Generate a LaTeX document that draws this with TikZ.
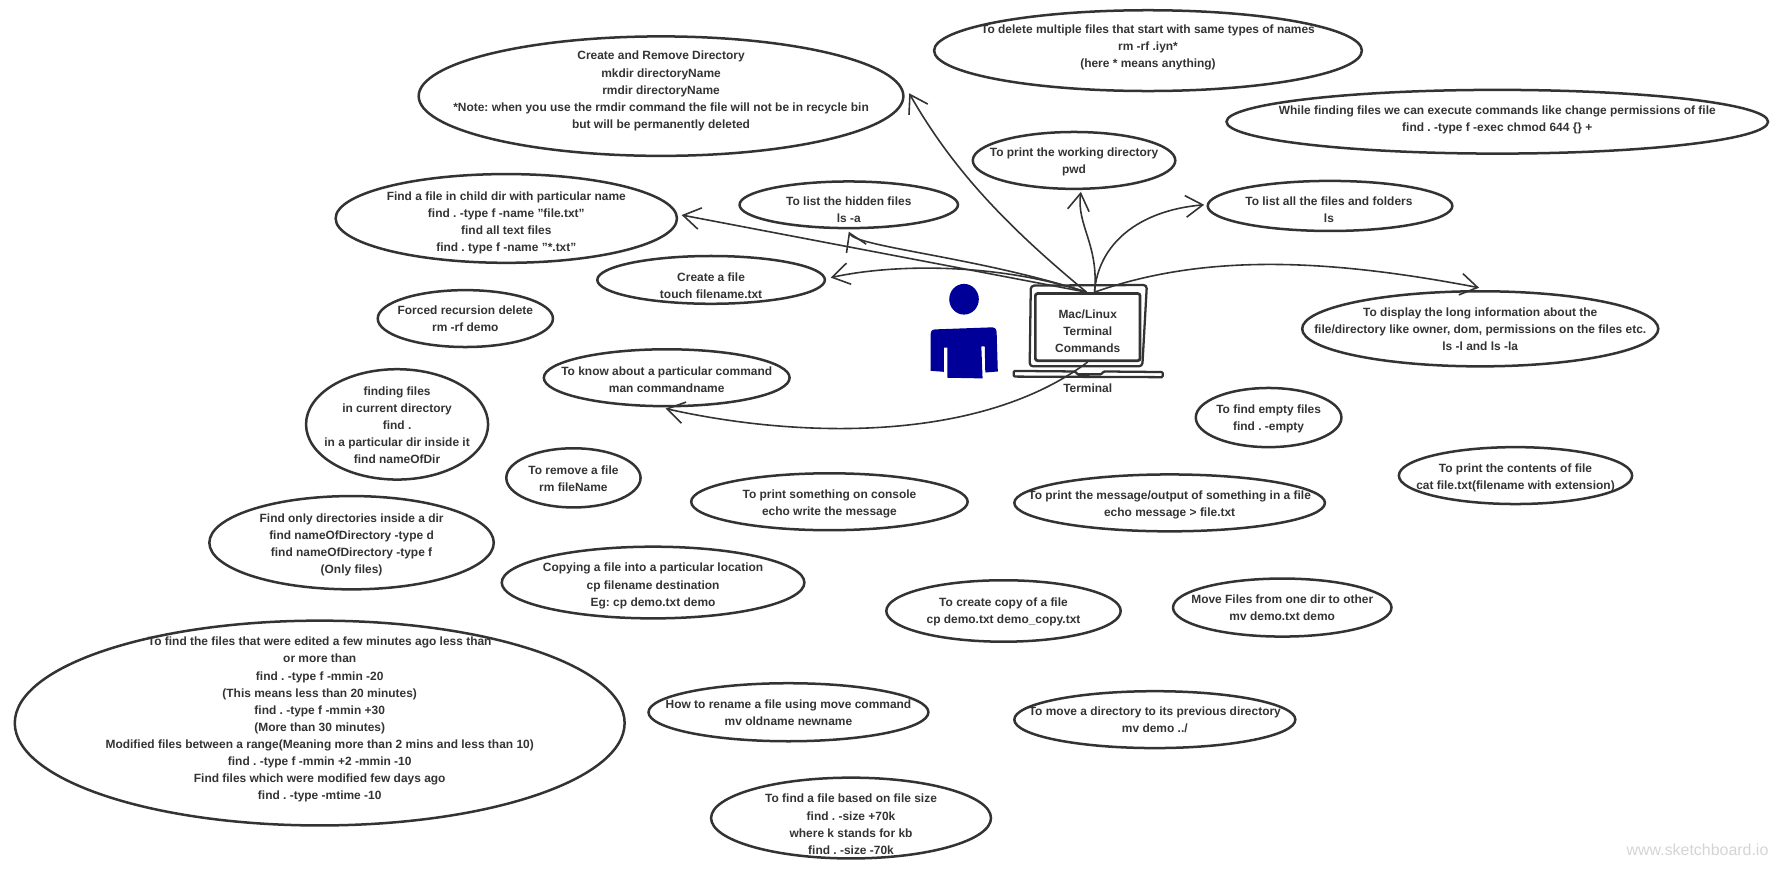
\documentclass[tikz,border=0pt]{standalone}
\usepackage{fontspec}
\setmainfont{Liberation Sans}
\usepackage{xcolor}
\usetikzlibrary{shapes.geometric,arrows.meta}
\definecolor{inkgray}{HTML}{333333}
\definecolor{personblue}{HTML}{000099}
\definecolor{markgray}{HTML}{D4D4D4}
\frenchspacing

\begin{document}
\begin{tikzpicture}[
    x=1pt, y=-1pt,
    bub/.style={ellipse, draw=inkgray, line width=2.2pt, inner sep=0pt},
    txt/.style={align=center, text=inkgray, inner sep=0pt,
                font=\fontsize{10.5}{15}\selectfont\bfseries},
    scr/.style={draw=inkgray, line width=2pt, line join=round},
    arr/.style={-{Straight Barb[length=15pt, width=19pt, line width=1.4pt]},
                draw=inkgray, line width=1.4pt},
  ]
  \useasboundingbox (0,0) rectangle (1568,764.65);

  % Top row
  \node[bub, minimum width=376, minimum height=71] (del) at (1009,44.5) {};
  \node[txt] (deltxt) at (1009,42) {To delete multiple files that start with same types of names\\rm -rf .iyn*\\(here * means anything)};
  \node[bub, minimum width=426, minimum height=105] (mkd) at (581,84.5) {};
  \node[txt] (mkdtxt) at (581,80) {Create and Remove Directory\\mkdir directoryName\\rmdir directoryName\\*Note: when you use the rmdir command the file will not be in recycle bin\\but will be permanently deleted};
  \node[bub, minimum width=476, minimum height=56] (exec) at (1316,107) {};
  \node[txt] (exectxt) at (1316,105.5) {While finding files we can execute commands like change permissions of file\\find . -type f -exec chmod 644 \{\} +};
  \node[bub, minimum width=178, minimum height=50] (pwd) at (944,141) {};
  \node[txt] (pwdtxt) at (944,142.5) {To print the working directory\\pwd};

  % Around the terminal
  \node[bub, minimum width=215, minimum height=44] (lsall) at (1169,181) {};
  \node[txt] (lsalltxt) at (1168,184.5) {To list all the files and folders\\ls};
  \node[bub, minimum width=192, minimum height=41] (lsa) at (746,180) {};
  \node[txt] (lsatxt) at (746,184.5) {To list the hidden files\\ls -a};
  \node[bub, minimum width=300, minimum height=78] (fchild) at (445,192) {};
  \node[txt] (fchildtxt) at (445,196) {Find a file in child dir with particular name\\find . -type f -name "file.txt"\\find all text files\\find . type f -name "*.txt"};
  \node[bub, minimum width=200, minimum height=42] (touch) at (625,246) {};
  \node[txt] (touchtxt) at (625,251.5) {Create a file\\touch filename.txt};
  \node[bub, minimum width=154, minimum height=50] (rmrf) at (409,280) {};
  \node[txt] (rmrftxt) at (409,280.5) {Forced recursion delete\\rm -rf demo};
  \node[bub, minimum width=313, minimum height=66] (lsl) at (1301,289) {};
  \node[txt] (lsltxt) at (1301,289) {To display the long information about the\\file/directory like owner, dom, permissions on the files etc.\\ls -l and ls -la};
  \node[bub, minimum width=216, minimum height=50] (man) at (586,332) {};
  \node[txt] (mantxt) at (586,333.5) {To know about a particular command\\man commandname};

  % Middle rows
  \node[bub, minimum width=160, minimum height=97] (ffind) at (349,373) {};
  \node[txt] (ffindtxt) at (349,373.5) {finding files\\in current directory\\find .\\in a particular dir inside it\\find nameOfDir};
  \node[bub, minimum width=128, minimum height=52] (empty) at (1115,367) {};
  \node[txt] (emptytxt) at (1115,368.5) {To find empty files\\find . -empty};
  \node[bub, minimum width=205, minimum height=50] (cat) at (1332,418) {};
  \node[txt] (cattxt) at (1332,420) {To print the contents of file\\cat file.txt(filename with extension)};
  \node[bub, minimum width=118, minimum height=52] (rmf) at (504,420) {};
  \node[txt] (rmftxt) at (504,420.5) {To remove a file\\rm fileName};
  \node[bub, minimum width=243, minimum height=50] (echo) at (729,441) {};
  \node[txt] (echotxt) at (729,443) {To print something on console\\echo write the message};
  \node[bub, minimum width=273, minimum height=50] (echof) at (1028,442) {};
  \node[txt] (echoftxt) at (1028,444) {To print the message/output of something in a file\\echo message > file.txt};
  \node[bub, minimum width=250, minimum height=82] (fdir) at (309,477) {};
  \node[txt] (fdirtxt) at (309,479) {Find only directories inside a dir\\find nameOfDirectory -type d\\find nameOfDirectory -type f\\(Only files)};
  \node[bub, minimum width=266, minimum height=63] (cpdest) at (574,512) {};
  \node[txt] (cpdesttxt) at (574,515) {Copying a file into a particular location\\cp filename destination\\Eg: cp demo.txt demo};
  \node[bub, minimum width=206, minimum height=54] (cp) at (882,537) {};
  \node[txt] (cptxt) at (882,537.5) {To create copy of a file\\cp demo.txt demo\_copy.txt};
  \node[bub, minimum width=192, minimum height=51] (mv) at (1127,534) {};
  \node[txt] (mvtxt) at (1127,534.5) {Move Files from one dir to other\\mv demo.txt demo};

  % Bottom rows
  \node[bub, minimum width=536, minimum height=180] (mmin) at (281,635.5) {};
  \node[txt] (mmintxt) at (281,632.5) {To find the files that were edited a few minutes ago less than\\or more than\\find . -type f -mmin -20\\(This means less than 20 minutes)\\find . -type f -mmin +30\\(More than 30 minutes)\\Modified files between a range(Meaning more than 2 mins and less than 10)\\find . -type f -mmin +2 -mmin -10\\Find files which were modified few days ago\\find . -type -mtime -10};
  \node[bub, minimum width=246, minimum height=51] (mvren) at (693,626) {};
  \node[txt] (mvrentxt) at (693,626.5) {How to rename a file using move command\\mv oldname newname};
  \node[bub, minimum width=247, minimum height=50] (mvup) at (1015,632.5) {};
  \node[txt] (mvuptxt) at (1015,633) {To move a directory to its previous directory\\mv demo ../};
  \node[bub, minimum width=246, minimum height=71] (fsize) at (748,719) {};
  \node[txt] (fsizetxt) at (748,724.5) {To find a file based on file size\\find . -size +70k\\where k stands for kb\\find . -size -70k};

  % Person
  \fill[personblue] (847.3,263) ellipse [x radius=13, y radius=13.5];
  \fill[personblue] (817.9,325.9) -- (829.6,326.8) -- (829.6,305.6) -- (832.6,305.6) -- (832.6,332) -- (863.6,332.6) -- (862.5,304.5) -- (865.5,304.5) -- (866,327.4) -- (877,326.5) -- (876,293) .. controls (876,289.5) and (875,288) .. (872,287.7) -- (822,289.5) .. controls (819,289.7) and (818,291) .. (818,294) -- cycle;

  % Laptop
  \draw[scr, rounded corners=3pt] (906,251) -- (1008,250.5) -- (1004,322) -- (905,322) -- cycle;
  \node[draw=inkgray, line width=2.4pt, rounded corners=2pt, minimum width=92, minimum height=59, inner sep=0pt] (term) at (956,287.5) {};
  \node[txt] (termtxt) at (956,291) {Mac/Linux\\Terminal\\Commands};
  \draw[scr, rounded corners=1pt] (891,326) -- (945,326.5) -- (947,329) -- (968,329) -- (970,326.5) -- (1022,327) -- (1022,331.5) -- (891,331) -- cycle;
  \node[txt] (termlbl) at (956,341) {Terminal};

  % Arrows
  \draw[arr] ([xshift=-1]term.north) .. controls (880,195) and (835,145) .. ([xshift=4,yshift=2.5]mkd.east);
  \draw[arr] ([xshift=-1]term.north) -- ([xshift=3,yshift=3]fchild.east);
  \draw[arr] ([xshift=-1]term.north) .. controls (860,226) and (752,217) .. ([yshift=-2]lsa.south);
  \draw[arr] ([xshift=-1]term.north) .. controls (880,232) and (790,231) .. ([xshift=4,yshift=2]touch.east);
  \draw[arr] ([xshift=6]term.north) .. controls (966,215) and (946,198) .. ([xshift=6,yshift=-1.5]pwd.south);
  \draw[arr] ([xshift=6]term.north) .. controls (965,215) and (1000,185) .. ([xshift=-2,yshift=1]lsall.west);
  \draw[arr] ([xshift=6]term.north) .. controls (1060,222) and (1170,228) .. ([xshift=-1,yshift=2]lsl.north);
  \draw[arr] (term.south) .. controls (860,390) and (700,385) .. ([xshift=-1,yshift=-1]man.south);

  % Watermark
  \node[text=markgray, inner sep=0pt, font=\fontsize{14}{16}\selectfont] (mark) at (1492,747) {www.sketchboard.io};
\end{tikzpicture}
\end{document}
